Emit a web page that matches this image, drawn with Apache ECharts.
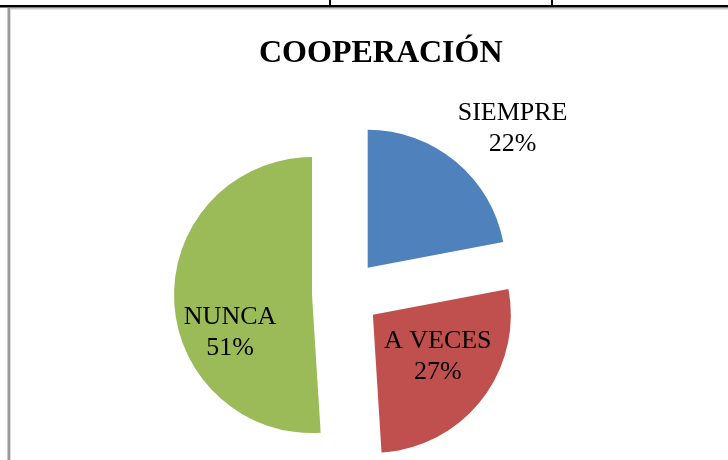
<!DOCTYPE html>
<html>
<head>
<meta charset="utf-8">
<title>COOPERACIÓN</title>
<script src="https://cdn.jsdelivr.net/npm/echarts@6/dist/echarts.min.js"></script>
<style>
    html, body { margin: 0; padding: 0; background: #fff; }
    #chart { width: 728px; height: 460px; }
</style>
</head>
<body>
<div id="chart"></div>
<script>
    // datos
    var categorias = ['SIEMPRE', 'A VECES', 'NUNCA'];
    var valores = [22, 27, 51];
    var colores = ['#4F81BD', '#C0504D', '#9BBB59'];

    // ajuste de etiquetas (px) respecto a la posicion interior
    var labelShift = [[99, -84], [8, -2], [-10, 35]];

    var datos = [];
    for (var i = 0; i < categorias.length; i++) {
        datos.push({
            name: categorias[i],
            value: valores[i],
            selected: true,
            itemStyle: { color: colores[i] }
        });
    }

    var myChart = echarts.init(document.getElementById('chart'));

    var option = {
        animation: false,
        backgroundColor: '#fff',
        title: {
            text: 'COOPERACIÓN',
            left: 254,
            top: 33,
            textStyle: {
                fontFamily: 'Liberation Serif',
                fontWeight: 'bold',
                fontSize: 32,
                color: '#000'
            }
        },
        //bordes de la tabla
        graphic: [
            { type: 'rect', shape: { x: 0, y: 5, width: 728, height: 2.5 }, style: { fill: '#000' } },
            { type: 'rect', shape: { x: 329, y: 0, width: 2, height: 6 }, style: { fill: '#000' } },
            { type: 'rect', shape: { x: 551, y: 0, width: 2, height: 6 }, style: { fill: '#000' } },
            { type: 'rect', shape: { x: 7.5, y: 8, width: 2.5, height: 452 }, style: { fill: '#9a9a9a' } },
            { type: 'rect', shape: { x: 10, y: 8, width: 718, height: 1.5 }, style: { fill: '#c8c8c8' } },
            { type: 'rect', shape: { x: 10, y: 9.5, width: 1, height: 451 }, style: { fill: '#dcdcdc' } }
        ],
        series: [{
            type: 'pie',
            center: [346, 294],
            radius: 138,
            startAngle: 90,
            clockwise: true,
            selectedMode: 'multiple',
            selectedOffset: 34,
            avoidLabelOverlap: false,
            silent: true,
            itemStyle: { borderWidth: 0 },
            select: { itemStyle: { borderWidth: 0 } },
            emphasis: { scale: false },
            label: {
                show: true,
                position: 'inside',
                formatter: '{b}\n{d}%',
                fontFamily: 'Liberation Serif',
                fontSize: 26,
                lineHeight: 31,
                color: '#000'
            },
            labelLine: { show: false },
            labelLayout: function (params) {
                var s = labelShift[params.dataIndex];
                return { dx: s[0], dy: s[1] };
            },
            data: datos
        }]
    };

    myChart.setOption(option);
</script>
</body>
</html>
